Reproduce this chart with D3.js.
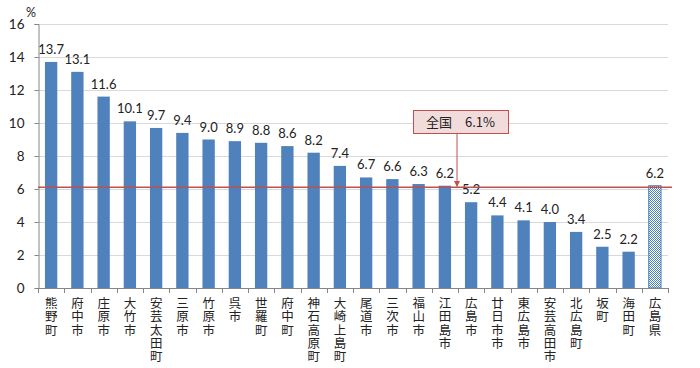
<!DOCTYPE html>
<html><head><meta charset="utf-8">
<script src="https://cdn.jsdelivr.net/npm/d3@7"></script>
<style>body{margin:0;background:#fff}svg{display:block}</style>
</head><body>
<svg id="c" width="700" height="368"></svg>
<script>
const categories = ["熊野町","府中市","庄原市","大竹市","安芸太田町","三原市","竹原市","呉市","世羅町","府中町","神石高原町","大崎上島町","尾道市","三次市","福山市","江田島市","広島市","廿日市市","東広島市","安芸高田市","北広島町","坂町","海田町","広島県"];
const values = [13.7,13.1,11.6,10.1,9.7,9.4,9.0,8.9,8.8,8.6,8.2,7.4,6.7,6.6,6.3,6.2,5.2,4.4,4.1,4.0,3.4,2.5,2.2,6.2];
const yTicks = [0,2,4,6,8,10,12,14,16];
const nationalValue = 6.1;
const nationalLabel = "全国　6.1%";
const unitLabel = "%";

const svg = d3.select("#c");
const L = 38, R = 668, T = 24, B = 288;
const x = d3.scaleBand().domain(categories).range([L, R]).paddingInner(0.53).paddingOuter(0.265);
const y = d3.scaleLinear().domain([0,16]).range([B, T]);
const numFont = "Lato, 'Liberation Sans', sans-serif";
const jpFont = "'Noto Sans CJK JP', sans-serif";

const defs = svg.append("defs");
const pat = defs.append("pattern").attr("id","dots").attr("width",2).attr("height",2).attr("patternUnits","userSpaceOnUse");
pat.append("rect").attr("width",2).attr("height",2).attr("fill","#fff");
pat.append("rect").attr("width",1).attr("height",1).attr("fill","#4f81bd");
pat.append("rect").attr("x",1).attr("y",1).attr("width",1).attr("height",1).attr("fill","#4f81bd");

// gridlines
svg.append("g").selectAll("line").data(yTicks.filter(d=>d>0)).join("line")
  .attr("x1",L).attr("x2",R).attr("y1",d=>Math.round(y(d))+0.5).attr("y2",d=>Math.round(y(d))+0.5)
  .attr("stroke","#d9d9d9").attr("stroke-width",1);

// y axis
const yAxis = svg.append("g").attr("transform",`translate(${L+0.5},0)`)
  .call(d3.axisLeft(y).tickValues(yTicks).tickSize(4).tickPadding(10).tickFormat(d3.format("d")));
yAxis.select(".domain").attr("stroke","#868686");
yAxis.selectAll(".tick line").attr("stroke","#868686");
yAxis.selectAll("text").attr("font-family",numFont).attr("font-size",13.5).attr("fill","#222");

svg.append("text").attr("x",26).attr("y",17).attr("font-family",numFont).attr("font-size",12.5).attr("fill","#222").text(unitLabel);

// bars
const step = x.step();
svg.append("g").selectAll("rect").data(categories).join("rect")
  .attr("x",d=>x(d)).attr("width",x.bandwidth())
  .attr("y",(d,i)=>y(values[i])).attr("height",(d,i)=>B-y(values[i]))
  .attr("fill",(d,i)=>i===categories.length-1?"url(#dots)":"#4f81bd")
  .attr("stroke",(d,i)=>i===categories.length-1?"#4f81bd":"none")
  .attr("stroke-width",1);

// value labels
svg.append("g").selectAll("text").data(categories).join("text")
  .attr("x",d=>x(d)+x.bandwidth()/2).attr("y",(d,i)=>y(values[i])-8)
  .attr("text-anchor","middle").attr("font-family",numFont).attr("font-size",13).attr("fill","#222")
  .text((d,i)=>d3.format(".1f")(values[i]));

// x axis line and ticks
svg.append("line").attr("x1",L).attr("x2",R).attr("y1",B+0.5).attr("y2",B+0.5).attr("stroke","#868686");
const bounds = d3.range(categories.length+1).map(i=>L+i*step);
svg.append("g").selectAll("line").data(bounds).join("line")
  .attr("x1",d=>Math.round(d)+0.5).attr("x2",d=>Math.round(d)+0.5).attr("y1",B).attr("y2",B+5).attr("stroke","#868686");

// category labels, vertical
svg.append("g").selectAll("text").data(categories).join("text")
  .attr("x",d=>x(d)+x.bandwidth()/2).attr("y",297)
  .style("writing-mode","vertical-rl").style("text-orientation","upright")
  .attr("letter-spacing",0.8)
  .attr("font-family",jpFont).attr("font-size",12.5).attr("fill","#222")
  .text(d=>d);

// national line
svg.append("line").attr("x1",L).attr("x2",R+4).attr("y1",y(nationalValue)).attr("y2",y(nationalValue))
  .attr("stroke","#c0504d").attr("stroke-width",1.5);

// annotation
const bx = 413, by = 110, bw = 95, bh = 23;
const ax = 457;
defs.append("marker").attr("id","arr").attr("viewBox","0 0 10 10").attr("refX",9).attr("refY",5)
  .attr("markerWidth",6).attr("markerHeight",6).attr("orient","auto")
  .append("path").attr("d","M0,0 L10,5 L0,10 z").attr("fill","#c0504d");
svg.append("line").attr("x1",ax).attr("x2",ax).attr("y1",by+bh).attr("y2",y(nationalValue)-1)
  .attr("stroke","#c0504d").attr("stroke-width",1).attr("marker-end","url(#arr)");
svg.append("rect").attr("x",bx+0.5).attr("y",by+0.5).attr("width",bw).attr("height",bh)
  .attr("fill","#f2dcdb").attr("stroke","#c0504d").attr("stroke-width",1);
svg.append("text").attr("x",bx+bw/2).attr("y",by+bh/2+5).attr("text-anchor","middle")
  .attr("font-family",jpFont).attr("font-size",13).attr("fill","#222").text(nationalLabel);
</script>
</body></html>
